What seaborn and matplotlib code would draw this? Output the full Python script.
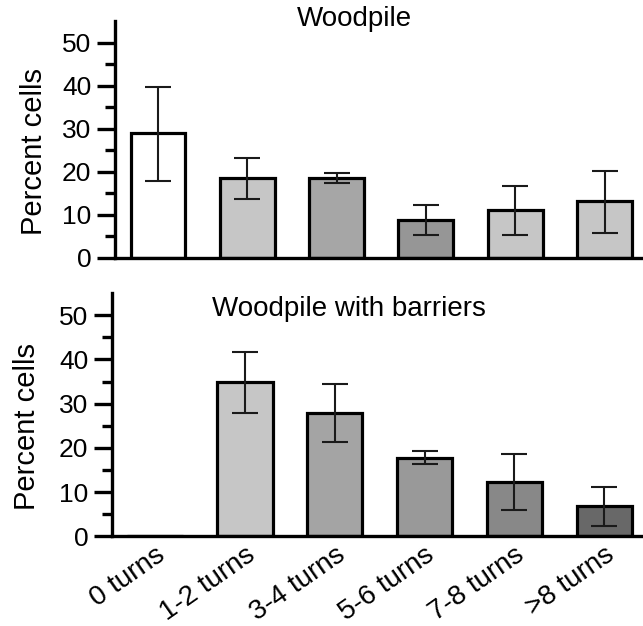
import matplotlib
matplotlib.use("Agg")
import matplotlib.pyplot as plt
import seaborn as sns
import pandas as pd
import numpy as np

categories = ["0 turns", "1-2 turns", "3-4 turns", "5-6 turns", "7-8 turns", ">8 turns"]

top_values = [29.0, 18.5, 18.6, 8.9, 11.1, 13.2]
top_err_low = [17.9, 13.8, 17.5, 5.3, 5.3, 5.7]
top_err_high = [39.7, 23.2, 19.8, 12.3, 16.8, 20.2]
top_colors = ["#ffffff", "#c6c6c6", "#a6a6a6", "#969696", "#c6c6c6", "#c6c6c6"]

bot_values = [0.0, 34.8, 28.0, 17.7, 12.3, 6.8]
bot_err_low = [0.0, 27.8, 21.4, 16.3, 6.0, 2.4]
bot_err_high = [0.0, 41.7, 34.4, 19.4, 18.7, 11.1]
bot_colors = ["#ffffff", "#c6c6c6", "#a4a4a4", "#999999", "#888888", "#686868"]

titles = ["Woodpile", "Woodpile with barriers"]
ylabel = "Percent cells"
yticks = [0, 10, 20, 30, 40, 50]

sns.set_theme(style="ticks")
plt.rcParams['font.family'] = ['Liberation Sans', 'DejaVu Sans']
plt.rcParams['text.color'] = 'black'
plt.rcParams['axes.labelcolor'] = 'black'
plt.rcParams['xtick.color'] = 'black'
plt.rcParams['ytick.color'] = 'black'

fig = plt.figure(figsize=(6.43, 6.26), dpi=100)
ax_top = fig.add_axes([0.179, 0.588, 0.821, 0.378])
ax_bot = fig.add_axes([0.174, 0.143, 0.826, 0.389])

panels = [
    (ax_top, top_values, top_err_low, top_err_high, top_colors, titles[0], (2.2, 55.6), (-0.128, 0.45)),
    (ax_bot, bot_values, bot_err_low, bot_err_high, bot_colors, titles[1], (2.16, 51.4), (-0.133, 0.452)),
]

for ax, vals, lo, hi, cols, title, tpos, lpos in panels:
    df = pd.DataFrame({"cat": categories, "val": vals})
    sns.barplot(data=df, x="cat", y="val", hue="cat", palette=cols, legend=False,
                width=0.615, edgecolor="black", linewidth=2.3, ax=ax, errorbar=None,
                saturation=1)
    vals_a = np.array(vals)
    lo_a = np.array(lo)
    hi_a = np.array(hi)
    mask = (hi_a - lo_a) > 0
    xs = np.arange(len(categories))[mask]
    ax.errorbar(xs, vals_a[mask], yerr=[vals_a[mask] - lo_a[mask], hi_a[mask] - vals_a[mask]],
                fmt="none", ecolor="#1a1a1a", elinewidth=1.5, capsize=9.5, capthick=1.5, zorder=5)
    ax.set_ylim(0, 55)
    ax.set_xlim(-0.48, 5.43)
    ax.set_yticks(yticks)
    ax.set_yticks(np.arange(5, 55, 10), minor=True)
    ax.set_xlabel("")
    ax.set_ylabel(ylabel, fontsize=21)
    ax.yaxis.set_label_coords(lpos[0], lpos[1])
    for s in ["top", "right"]:
        ax.spines[s].set_visible(False)
    for s in ["left", "bottom"]:
        ax.spines[s].set_linewidth(2.4)
        ax.spines[s].set_color("black")
    ax.tick_params(axis="y", which="major", length=13, width=2.4, labelsize=19, pad=4, color="black")
    ax.tick_params(axis="y", which="minor", length=7, width=2.4, color="black")
    ax.tick_params(axis="x", which="both", length=0)
    ax.text(tpos[0], tpos[1], title, ha="center", va="center", fontsize=20)
    ax.set_facecolor("white")

ax_top.set_xticklabels([])
ax_bot.set_xticks(range(len(categories)))
ax_bot.set_xticklabels(categories, rotation=35, ha="right", rotation_mode="anchor", fontsize=20)
ax_bot.tick_params(axis="x", pad=4)

fig.savefig("out.png", dpi=100, facecolor="white")
